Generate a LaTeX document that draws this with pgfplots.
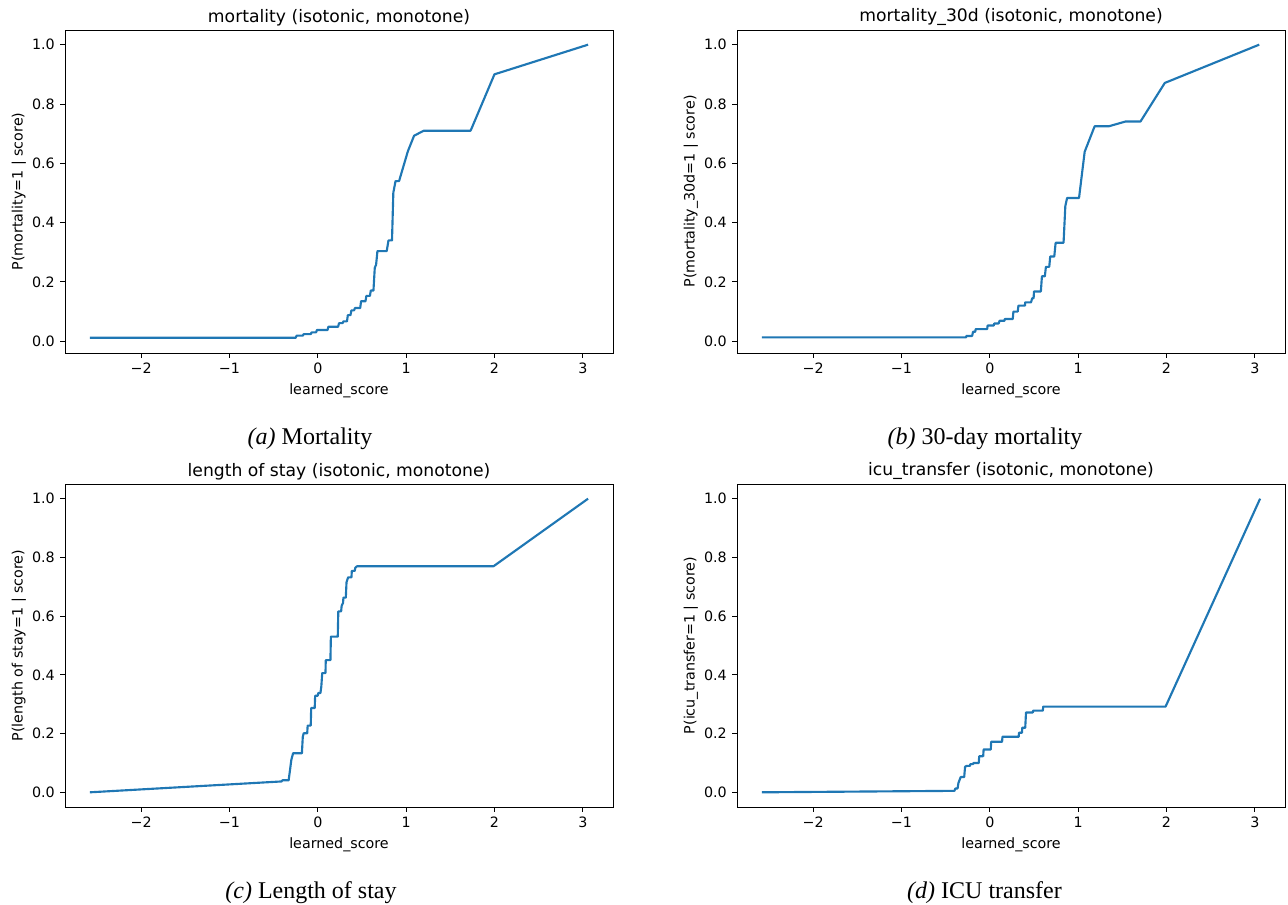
\documentclass[border=0pt]{standalone}
\usepackage{fontspec}
\setmainfont{DejaVu Sans}
\newfontfamily\capfont{Liberation Serif}
\usepackage{pgfplots}
\pgfplotsset{compat=1.18}
\definecolor{tabblue}{HTML}{1F77B4}

% 1 px of the reference = 0.75pt
\newcommand{\mplfont}{\fontsize{10.7}{12}\selectfont}
\pgfplotsset{
  isoplot/.style={
    scale only axis,
    width=411pt, height=242.25pt,
    anchor=south west,
    xmin=-2.862, xmax=3.342,
    xtick={-2,-1,0,1,2,3},
    xticklabels={−2,−1,0,1,2,3},
    ytick={0,0.2,0.4,0.6,0.8,1.0},
    yticklabels={0.0,0.2,0.4,0.6,0.8,1.0},
    tick pos=left,
    tick align=outside,
    major tick length=3.75pt,
    tick style={black, line width=0.7pt},
    axis line style={line width=0.7pt},
    /pgf/number format/assume math mode=true,
    tick label style={font=\mplfont, inner sep=0pt},
    xticklabel style={yshift=-3.75pt},
    yticklabel style={xshift=-3.75pt},
    every axis x label/.style={at={(ticklabel cs:0.5)}, anchor=north, font=\mplfont, inner sep=0pt, yshift=-7.3pt},
    every axis y label/.style={at={(ticklabel cs:0.5)}, rotate=90, anchor=south, font=\mplfont, inner sep=4.3pt},
    every axis title shift=0pt,
    title style={font=\fontsize{12.9}{15}\selectfont, at={(0.5,1)}, anchor=south, inner sep=0pt, yshift=3pt},
    xlabel={learned\_score},
    no markers,
    cycle list={{tabblue, solid}},
    every axis plot/.append style={line width=1.6pt, line join=round},
  }
}

\begin{document}
\begin{tikzpicture}
\path[use as bounding box] (0,0) rectangle (966pt,678.75pt);

% (a) mortality
\begin{axis}[isoplot, at={(48.75pt,414pt)},
    ymin=-0.0395, ymax=1.0495,
    title={mortality (isotonic, monotone)},
    ylabel={P(mortality=1 | score)}]
\addplot coordinates {
(-2.58,0.012) (-0.25,0.012) (-0.24,0.019) (-0.17,0.019) (-0.16,0.024) (-0.08,0.024)
(-0.07,0.030) (-0.02,0.030) (-0.01,0.038) (0.11,0.038) (0.12,0.049) (0.23,0.049)
(0.24,0.061) (0.28,0.061) (0.29,0.067) (0.33,0.067) (0.34,0.088) (0.37,0.088)
(0.38,0.104) (0.41,0.104) (0.42,0.112) (0.48,0.112) (0.49,0.135) (0.54,0.135)
(0.55,0.153) (0.59,0.153) (0.60,0.171) (0.63,0.171) (0.645,0.248) (0.66,0.258)
(0.675,0.304) (0.78,0.304) (0.80,0.340) (0.84,0.340) (0.855,0.501) (0.88,0.540)
(0.92,0.540) (1.02,0.641) (1.09,0.693) (1.20,0.710) (1.73,0.710) (2.00,0.900)
(3.06,1.000)
};
\end{axis}

% (b) mortality_30d
\begin{axis}[isoplot, at={(552.75pt,414pt)},
    ymin=-0.0395, ymax=1.0495,
    title={mortality\_30d (isotonic, monotone)},
    ylabel={P(mortality\_30d=1 | score)}]
\addplot coordinates {
(-2.58,0.013) (-0.27,0.013) (-0.265,0.018) (-0.20,0.018) (-0.19,0.032) (-0.165,0.032)
(-0.16,0.041) (-0.03,0.041) (-0.025,0.053) (0.045,0.053) (0.05,0.060) (0.10,0.060)
(0.11,0.069) (0.166,0.069) (0.17,0.075) (0.26,0.075) (0.267,0.100) (0.316,0.100)
(0.324,0.120) (0.398,0.120) (0.40,0.131) (0.466,0.131) (0.48,0.145) (0.496,0.145)
(0.50,0.168) (0.578,0.168) (0.59,0.219) (0.623,0.219) (0.635,0.251) (0.673,0.251)
(0.684,0.286) (0.73,0.286) (0.745,0.332) (0.835,0.332) (0.855,0.456) (0.875,0.483)
(1.01,0.483) (1.074,0.639) (1.187,0.725) (1.35,0.725) (1.537,0.741) (1.706,0.741)
(1.981,0.871) (3.05,1.000)
};
\end{axis}

% (c) length of stay
\begin{axis}[isoplot, at={(48.75pt,73.5pt)},
    ymin=-0.05, ymax=1.05,
    title={length of stay (isotonic, monotone)},
    ylabel={P(length of stay=1 | score)}]
\addplot coordinates {
(-2.58,0.000) (-0.41,0.037) (-0.40,0.041) (-0.33,0.041) (-0.315,0.075) (-0.30,0.110)
(-0.28,0.133) (-0.18,0.133) (-0.17,0.189) (-0.16,0.201) (-0.12,0.201) (-0.115,0.227)
(-0.08,0.227) (-0.075,0.287) (-0.035,0.287) (-0.03,0.329) (0.00,0.329) (0.005,0.338)
(0.03,0.338) (0.04,0.361) (0.05,0.406) (0.087,0.406) (0.09,0.450) (0.143,0.450)
(0.148,0.530) (0.226,0.530) (0.232,0.616) (0.264,0.616) (0.27,0.635) (0.286,0.645)
(0.29,0.663) (0.317,0.663) (0.325,0.715) (0.343,0.732) (0.381,0.732) (0.385,0.754)
(0.418,0.754) (0.425,0.765) (0.445,0.770) (1.99,0.770) (3.06,1.000)
};
\end{axis}

% (d) icu_transfer
\begin{axis}[isoplot, at={(552.75pt,73.5pt)},
    ymin=-0.05, ymax=1.05,
    title={icu\_transfer (isotonic, monotone)},
    ylabel={P(icu\_transfer=1 | score)}]
\addplot coordinates {
(-2.58,0.000) (-0.40,0.005) (-0.39,0.013) (-0.365,0.013) (-0.355,0.032) (-0.33,0.052)
(-0.29,0.052) (-0.28,0.087) (-0.26,0.090) (-0.225,0.090) (-0.22,0.096) (-0.19,0.096)
(-0.185,0.100) (-0.125,0.100) (-0.12,0.123) (-0.075,0.123) (-0.07,0.146) (0.011,0.146)
(0.015,0.172) (0.139,0.172) (0.143,0.189) (0.327,0.189) (0.33,0.203) (0.364,0.203)
(0.368,0.220) (0.401,0.220) (0.41,0.272) (0.488,0.272) (0.49,0.278) (0.60,0.278)
(0.605,0.292) (1.99,0.292) (3.06,1.000)
};
\end{axis}

% sub-figure captions
\begin{scope}[every node/.style={font=\capfont\fontsize{18}{21}\selectfont, inner sep=0pt}]
\node at (232.5pt,350pt) {\textit{(a)} Mortality};
\node at (738.75pt,350pt) {\textit{(b)} 30-day mortality};
\node at (233.25pt,9pt) {\textit{(c)} Length of stay};
\node at (738.4pt,9pt) {\textit{(d)} ICU transfer};
\end{scope}
\end{tikzpicture}
\end{document}
